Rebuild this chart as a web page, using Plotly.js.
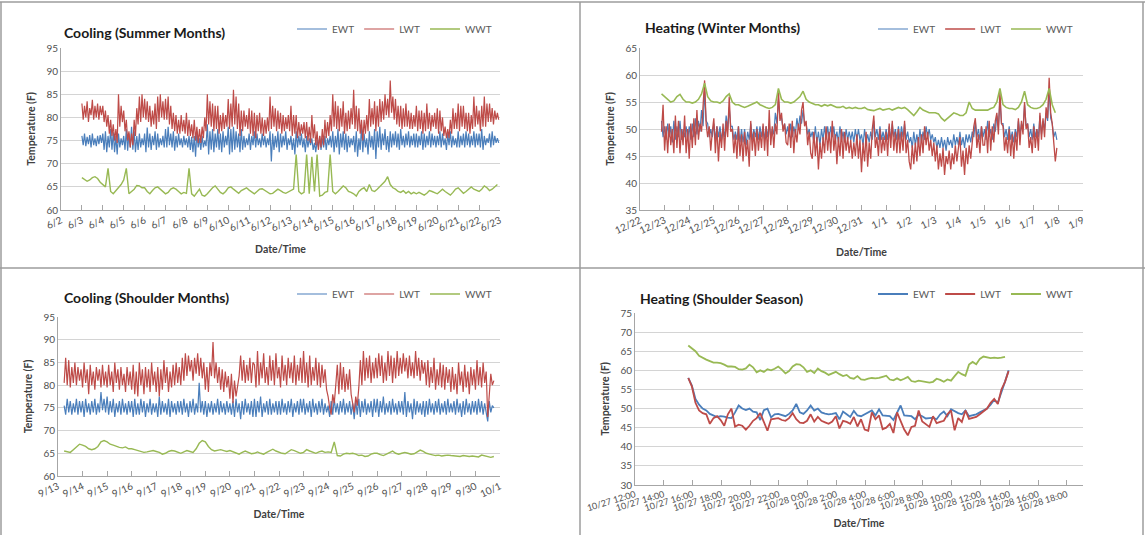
<!DOCTYPE html>
<html>
<head>
<meta charset="utf-8">
<script src="https://cdn.plot.ly/plotly-3.0.1.min.js"></script>
<style>html,body{margin:0;padding:0;background:#fff;}#chart{width:1145px;height:535px;}</style>
</head>
<body>
<div id="chart"></div>
<script>
// ---------------- DATA ----------------
// Cooling (Summer Months): EWT/LWT every 90 min from 6/3 00:00, WWT every 3 h
const summerStart = [2012, 6, 3, 0, 0];
const summerSteps = [90, 90, 180];
const summerEWT = [
  76.0,74.0,76.5,73.8,75.8,74.2,76.2,73.5,76.5,74.0,75.5,73.8,76.0,74.2,76.2,74.5,
  76.5,73.0,77.0,72.5,76.0,73.5,77.5,73.0,76.8,72.5,76.0,72.0,76.5,73.5,75.5,74.0,
  76.0,73.0,77.5,72.8,76.5,73.5,78.0,73.0,77.0,72.5,76.0,73.0,76.5,73.5,75.5,74.0,
  76.5,72.5,77.8,73.5,76.5,73.0,76.0,74.0,77.0,73.0,76.5,73.5,75.5,74.0,76.0,73.5,
  77.5,73.5,78.0,74.0,76.5,73.5,77.0,72.8,76.0,73.5,76.5,74.0,75.5,73.5,76.0,74.0,
  75.5,73.5,76.0,73.0,75.8,72.5,76.0,71.5,77.0,73.5,75.5,73.0,76.0,73.5,75.0,73.8,
  78.5,72.0,77.0,73.0,77.5,72.5,76.5,73.5,77.5,73.0,76.5,72.5,77.0,73.5,76.0,74.0,
  78.0,72.0,77.5,72.5,78.0,73.0,77.0,73.5,76.5,72.5,77.5,73.0,76.0,73.5,75.5,74.0,
  76.5,73.0,76.0,74.0,77.0,73.5,76.5,74.0,75.5,73.5,76.5,74.0,76.0,73.5,75.5,74.0,
  77.0,70.5,76.5,73.0,76.0,73.5,77.0,72.5,76.5,73.5,76.0,74.0,77.0,73.0,75.5,74.0,
  76.0,73.0,75.5,72.0,77.0,73.5,76.0,74.0,76.5,73.5,75.5,72.5,76.0,73.5,75.5,74.0,
  75.5,73.0,74.5,72.5,75.0,73.5,76.0,73.0,75.5,73.5,76.0,73.0,75.5,74.0,76.0,73.5,
  77.0,72.5,76.0,73.5,77.5,72.0,76.5,73.5,77.0,73.0,76.5,72.5,76.0,73.5,75.5,74.0,
  76.0,72.5,77.0,71.5,75.5,73.0,78.0,72.5,76.5,73.5,75.5,72.0,77.0,73.5,76.0,73.0,
  77.5,71.0,77.0,73.5,78.0,73.0,76.5,74.0,77.5,73.0,76.0,72.5,77.0,73.5,76.5,74.0,
  77.0,73.5,76.5,73.0,77.5,74.0,76.0,73.5,76.5,74.0,77.0,73.5,76.0,74.0,76.5,73.5,
  76.5,73.5,76.0,74.0,77.0,73.0,76.5,73.5,76.0,74.0,77.0,73.5,76.5,74.0,76.0,73.5,
  76.0,74.0,77.0,73.5,76.5,74.0,75.5,73.0,76.5,74.0,77.0,73.5,76.0,74.0,75.5,73.5,
  77.0,73.5,76.0,74.0,76.5,73.5,77.0,74.0,76.5,73.5,76.0,74.0,77.0,73.5,76.5,74.0,
  76.5,73.5,77.5,73.0,76.0,74.0,75.5,74.5,76.5,73.5,77.0,74.0,76.0,74.5,75.5,74.5
];
const summerLWT = [
  83.0,79.5,82.5,80.0,83.5,79.0,82.0,80.5,83.8,79.5,82.5,80.0,83.0,79.5,82.5,80.5,
  82.5,79.0,81.5,78.0,80.5,76.5,79.5,76.0,78.5,75.0,77.5,74.5,85.0,78.0,82.5,79.0,
  81.5,77.0,79.5,75.0,77.0,73.5,76.5,74.0,79.5,76.0,82.0,78.5,84.5,79.0,85.0,80.0,
  84.0,79.5,83.5,79.0,82.5,78.0,81.5,78.5,83.0,77.5,84.5,79.0,85.0,80.0,83.5,79.5,
  84.0,79.5,84.5,78.5,82.5,77.5,81.0,77.0,80.5,76.5,79.5,76.5,80.5,77.0,79.5,76.5,
  81.0,76.0,79.5,76.0,78.5,75.5,79.5,75.0,78.0,74.5,77.5,74.5,78.0,75.5,80.0,77.0,
  85.0,78.5,83.5,78.0,83.0,77.0,82.5,77.5,82.5,76.5,80.5,77.0,81.0,77.5,80.5,78.0,
  84.0,77.5,83.0,78.0,86.0,78.5,84.5,77.5,83.0,76.0,81.5,77.0,81.5,78.0,80.5,77.5,
  82.0,76.5,81.5,76.0,81.0,75.5,80.5,77.0,81.0,76.5,80.0,76.0,79.5,76.5,80.0,77.0,
  84.5,77.5,82.5,78.0,82.0,77.0,81.5,77.5,81.0,76.5,80.5,77.0,80.0,77.5,80.5,77.0,
  82.5,76.0,80.5,76.5,80.5,75.5,79.0,76.0,78.5,76.5,79.0,75.5,79.0,75.0,78.0,74.5,
  80.5,75.5,78.5,74.0,77.0,73.0,76.0,73.5,77.5,74.0,79.5,75.5,79.0,76.0,80.5,77.0,
  85.0,78.0,83.5,77.5,82.5,77.0,82.0,78.0,83.5,76.5,81.0,77.0,81.5,77.5,82.0,78.5,
  86.0,77.5,82.5,77.0,82.0,76.5,79.5,75.0,79.5,76.5,80.5,77.0,84.0,78.0,82.0,78.5,
  83.5,77.0,82.5,78.0,84.0,79.0,83.5,79.5,85.0,80.5,84.0,80.0,88.0,81.0,84.5,79.5,
  84.0,78.5,82.5,78.0,82.5,77.5,82.0,78.0,83.0,78.0,81.5,77.5,81.0,77.5,80.5,78.0,
  82.5,77.0,81.5,77.5,81.5,76.5,81.0,77.0,83.0,77.5,81.0,77.0,80.5,78.0,81.0,77.5,
  82.0,76.5,81.5,77.0,80.0,76.0,78.0,75.5,77.5,75.5,79.5,76.5,82.0,77.5,81.0,77.5,
  83.0,77.0,82.5,78.0,82.5,77.5,81.0,77.0,81.0,76.5,80.5,77.5,84.5,78.0,82.5,78.5,
  81.5,77.0,82.5,78.0,84.5,78.0,83.0,79.0,83.0,79.0,82.0,78.5,81.5,79.5,81.0,79.5
];
const summerWWT = [
  67.0, 66.5, 66.2, 66.5, 67.0, 67.2, 66.8, 66.0,
  65.5, 65.0, 69.0, 64.0, 63.5, 64.2, 64.8, 65.5,
  66.5, 69.0, 63.5, 64.0, 64.5, 65.3, 65.2, 64.8,
  64.8, 64.0, 63.5, 64.2, 64.8, 65.0, 64.5, 64.0,
  63.5, 63.8, 64.5, 64.8, 64.5, 64.0, 63.5, 63.8,
  63.6, 69.0, 63.5, 63.0, 63.8, 64.5, 63.2, 63.0,
  63.5, 64.2, 64.8, 65.2, 64.5, 63.8, 63.5, 64.0,
  64.8, 65.0, 64.5, 64.0, 63.6, 64.2, 64.6, 64.8,
  64.3, 63.8, 63.5, 64.0, 64.5, 64.6, 64.2, 63.8,
  63.5, 63.6, 64.0, 64.5, 64.2, 63.8, 63.6, 63.9,
  64.2, 64.5, 72.0, 64.0, 63.5, 63.8, 72.0, 63.5,
  71.5, 64.0, 72.0, 63.0, 63.2, 63.8, 64.0, 72.0,
  64.0, 63.5, 64.0, 64.5, 65.2, 64.8, 64.0, 63.8,
  63.5, 63.0, 64.0, 64.5, 64.8, 64.0, 65.5, 64.2,
  64.0, 64.5, 65.0, 65.5, 66.2, 67.2, 65.5, 64.8,
  64.5, 64.0, 63.8, 64.2, 63.6, 64.0, 63.5, 63.8,
  63.5, 63.8, 63.5, 63.2, 63.6, 64.2, 64.0, 63.8,
  63.5, 64.0, 64.5, 64.0, 63.5, 63.2, 63.8, 64.5,
  64.8, 64.2, 63.6, 64.0, 64.5, 65.0, 64.5, 64.2,
  64.0, 64.5, 65.2, 64.8, 64.2, 64.5, 65.0, 65.5
];

// Heating (Winter Months): EWT/LWT every 90 min from 12/22 21:00, WWT every 3 h
const winterStart = [2012, 12, 22, 21, 0];
const winterSteps = [90, 90, 180];
const winterEWT = [
  51.5,48.5,
  50.5,48.0,51.0,48.5,50.5,47.5,51.5,48.0,50.5,48.5,51.5,48.0,50.0,48.5,50.5,48.0,
  50.5,48.0,51.0,48.5,52.0,49.0,51.5,49.5,53.5,50.5,57.0,51.5,51.0,48.5,50.0,48.5,
  51.0,48.0,50.5,48.5,50.5,48.0,50.0,48.5,52.5,50.0,54.0,50.5,50.5,48.0,49.5,48.0,
  50.5,47.5,50.0,47.5,50.0,47.0,49.5,48.0,51.0,48.0,50.0,48.5,50.5,48.0,50.5,48.5,
  50.5,48.0,50.5,48.5,51.0,48.5,50.0,49.0,53.0,51.0,55.5,52.0,52.0,50.0,51.0,49.0,
  50.5,48.5,51.0,48.5,50.5,49.0,52.0,50.0,52.5,51.0,53.5,51.0,51.0,49.0,50.0,48.5,
  49.5,47.5,50.5,47.5,49.5,47.0,50.0,48.0,50.5,48.0,50.5,48.0,50.5,48.5,50.5,48.0,
  49.5,47.5,50.5,48.0,49.5,47.5,50.0,48.0,49.5,48.0,49.5,47.5,50.0,48.0,50.0,48.0,
  49.0,47.0,50.0,47.5,49.0,47.5,49.5,48.0,51.5,48.5,50.0,48.0,50.5,48.0,49.5,48.0,
  50.0,48.0,50.5,48.0,51.0,48.5,50.0,48.0,50.5,48.0,50.5,48.5,51.0,48.0,49.5,47.5,
  48.5,46.5,49.5,47.0,49.0,47.0,50.0,47.5,49.5,48.0,50.5,48.5,50.0,48.0,49.0,47.5,
  48.5,46.5,48.0,46.5,48.5,46.5,48.0,46.0,48.5,47.0,48.0,46.5,49.0,47.0,48.5,47.0,
  49.5,47.0,48.5,46.5,49.0,47.5,49.0,47.5,49.5,48.5,51.5,48.5,50.0,48.0,50.5,48.5,
  50.0,48.0,51.5,48.5,50.0,48.0,51.0,49.5,52.5,50.5,55.5,51.0,51.0,48.5,50.0,48.0,
  50.5,48.0,49.5,47.5,50.0,48.5,51.5,49.0,51.0,50.0,54.5,50.5,51.0,48.5,50.0,48.0,
  51.0,48.5,50.0,48.5,52.5,49.0,51.5,50.0,53.0,51.5,57.5,52.0,51.0,48.5,49.5,48.0
];
const winterLWT = [
  49.5,54.5,
  46.0,50.5,45.5,51.0,47.0,50.0,45.5,52.5,46.5,51.5,45.5,50.0,47.0,52.5,45.5,50.0,
  44.5,51.0,46.5,52.0,47.0,53.5,48.0,51.0,49.5,54.0,59.0,51.0,48.5,50.5,46.0,49.5,
  52.0,45.5,50.5,44.0,49.5,46.5,51.0,46.0,51.5,48.5,56.0,49.5,50.0,45.5,49.0,44.5,
  50.5,45.0,49.0,44.0,49.5,45.0,48.0,43.0,51.5,46.0,49.5,45.0,50.0,46.0,49.5,46.5,
  51.0,46.0,50.5,45.0,53.5,47.0,50.5,46.5,51.0,49.0,57.0,51.5,53.0,49.5,51.0,47.5,
  47.0,51.0,46.5,51.5,45.5,50.0,47.5,51.0,49.0,53.5,55.0,50.5,51.5,47.0,49.5,45.5,
  44.5,49.5,45.0,48.5,42.5,47.5,44.5,48.5,45.5,50.5,46.0,49.5,45.5,51.5,46.0,49.0,
  43.5,48.5,45.0,50.0,44.5,49.5,46.0,48.5,45.5,48.0,44.5,47.5,45.0,49.0,44.5,48.0,
  42.0,47.5,44.0,49.5,43.0,47.5,44.5,50.0,52.5,46.5,48.5,45.0,50.0,45.5,48.5,46.0,
  49.5,45.0,51.0,46.5,51.5,46.0,49.5,45.5,50.0,45.5,49.5,46.0,51.5,45.5,48.0,44.0,
  42.5,47.0,43.5,47.5,44.0,48.5,45.0,49.0,45.5,50.5,47.0,49.5,46.0,48.0,45.0,47.5,
  44.0,47.0,42.5,45.5,43.0,46.5,41.5,45.0,43.5,46.0,42.5,45.5,43.5,47.0,44.0,46.5,
  48.5,43.0,46.0,41.5,46.5,43.5,47.0,44.5,48.0,50.5,52.0,46.5,49.0,45.5,50.5,47.0,
  47.0,50.5,45.5,51.5,46.0,50.5,47.5,51.5,53.0,49.0,57.0,51.0,50.5,46.0,48.5,45.5,
  50.0,45.0,49.0,44.5,49.5,46.0,52.0,47.0,51.5,49.0,55.0,50.0,51.0,46.5,48.5,45.5,
  50.5,46.5,50.0,46.0,53.0,48.0,52.0,48.5,54.0,52.0,59.5,53.0,51.0,46.5,44.0,46.5
];
const winterWWT = [
  56.5,
  56.0, 55.5, 55.0, 55.2, 56.0, 56.4, 55.5, 55.0,
  55.0, 54.8, 55.0, 55.5, 56.5, 58.5, 56.0, 55.2,
  55.0, 55.0, 54.8, 55.2, 56.0, 56.5, 55.0, 54.5,
  54.5, 54.2, 54.0, 54.2, 54.5, 54.8, 55.0, 54.5,
  54.2, 54.0, 53.8, 54.0, 54.5, 57.5, 55.5, 55.0,
  55.0, 54.8, 55.0, 55.5, 56.0, 57.0, 55.5, 55.0,
  54.8, 54.5, 54.5, 54.2, 54.5, 54.3, 54.5, 54.2,
  54.0, 54.0, 54.2, 53.8, 54.0, 53.8, 54.0, 53.8,
  53.8, 54.0, 53.6, 53.5, 53.4, 53.6, 53.8, 53.5,
  53.6, 53.8, 53.5, 53.8, 54.0, 53.8, 54.0, 53.6,
  53.0, 52.5, 53.2, 54.0, 53.5, 53.2, 53.0, 53.0,
  53.0, 52.8, 52.0, 51.5, 52.0, 52.6, 53.0, 52.8,
  52.5, 52.5, 53.0, 55.0, 53.8, 53.5, 53.5, 53.5,
  53.5, 53.5, 53.8, 54.0, 55.0, 57.5, 54.5, 54.0,
  53.8, 53.8, 53.6, 54.0, 55.0, 57.0, 54.5, 54.0,
  53.8, 53.8, 54.0, 54.5, 55.5, 57.5, 54.5, 53.0
];

// Cooling (Shoulder Months): EWT/LWT every 90 min from 9/13 06:00, WWT every 3 h
const shoulderCoolStart = [2012, 9, 13, 6, 0];
const shoulderCoolSteps = [90, 90, 180];
const shoulderCoolEWT = [
  75.5,73.5,77.0,74.0,76.5,73.5,76.0,74.0,77.0,73.5,76.5,74.0,
  76.5,73.0,77.0,74.0,76.0,73.5,76.5,74.0,77.0,73.5,76.0,74.0,78.5,74.5,77.0,74.0,
  77.5,73.5,76.5,74.0,77.0,73.0,76.0,74.0,76.5,73.5,77.0,74.0,76.0,73.5,76.5,74.0,
  76.5,73.0,77.0,73.5,76.0,73.5,77.0,74.0,76.5,73.0,76.0,74.0,77.0,73.5,76.0,74.0,
  76.0,73.0,77.5,73.5,76.5,74.0,76.0,73.5,77.0,73.0,76.5,74.0,76.0,73.5,76.5,74.0,
  76.5,73.5,77.0,74.0,76.0,73.0,76.5,74.0,77.0,73.5,76.0,74.0,80.5,74.0,76.5,73.5,
  76.5,73.0,76.0,74.0,76.5,73.5,76.0,74.0,77.0,73.5,76.5,74.0,76.0,73.5,76.5,74.0,
  76.0,73.5,76.5,73.0,77.0,74.0,76.0,72.5,76.5,73.5,77.0,74.0,76.0,73.5,76.5,73.0,
  77.0,73.0,76.5,74.0,77.5,73.0,76.0,74.0,76.5,73.5,77.0,73.5,76.0,74.0,76.5,73.5,
  76.5,73.5,77.0,74.0,76.0,73.5,76.5,74.0,77.0,73.0,76.0,74.0,76.5,73.5,77.0,74.0,
  77.0,73.5,76.0,74.0,76.5,73.0,77.0,74.0,76.0,73.5,76.5,74.0,77.0,73.5,76.0,74.0,
  75.5,73.0,76.5,73.5,77.0,74.0,76.0,73.5,76.5,74.0,77.0,73.5,76.0,74.0,76.5,73.5,
  76.0,72.5,76.5,73.5,77.0,73.0,76.5,74.0,77.0,73.5,76.0,74.0,76.5,73.0,77.0,74.0,
  77.0,73.0,76.5,74.0,77.5,73.5,76.0,74.0,76.5,73.5,77.0,74.0,76.0,73.5,76.5,74.0,
  76.5,73.5,78.5,73.0,76.5,74.0,76.0,72.5,77.0,73.5,76.5,74.0,76.0,73.5,76.5,73.0,
  76.5,73.5,77.0,74.0,76.0,73.5,76.5,74.0,77.0,73.5,76.0,74.0,76.5,73.5,77.0,74.0,
  76.0,74.0,76.5,73.5,77.0,74.0,76.0,73.0,76.5,73.5,77.0,74.0,76.0,73.5,76.5,74.0,
  76.5,73.5,77.0,74.0,76.5,73.5,76.0,74.0,72.0,76.5,74.0,75.5,75.0
];
const shoulderCoolLWT = [
  80.5,86.0,80.0,85.5,79.5,84.0,80.5,85.0,80.0,84.0,81.0,83.5,
  79.5,85.0,80.5,83.5,78.0,84.5,80.0,83.0,79.0,84.0,81.0,83.5,79.5,84.5,80.0,83.0,
  79.5,84.5,80.0,83.0,78.5,85.0,80.5,83.5,79.0,84.0,80.0,82.5,78.5,84.0,80.0,83.0,
  79.0,84.5,78.0,83.0,77.5,85.0,80.0,83.5,78.0,84.0,79.5,83.5,78.5,85.0,80.0,83.0,
  78.5,84.0,77.5,83.5,79.0,85.5,80.5,84.0,78.5,83.0,79.5,84.5,80.0,85.0,80.5,84.0,
  80.0,86.0,81.0,87.0,82.0,86.5,83.0,85.5,81.0,86.0,82.5,87.0,82.0,86.0,81.5,85.0,
  79.0,84.0,78.5,85.0,82.0,89.5,81.5,85.0,80.5,84.0,79.0,83.5,78.5,83.0,79.5,82.0,
  77.0,82.5,76.0,81.0,77.5,80.0,82.0,86.5,81.0,85.5,80.5,84.5,81.0,86.0,80.5,85.0,
  84.5,79.5,87.5,80.0,85.0,81.5,87.0,80.5,84.0,80.0,86.5,81.0,85.5,80.0,87.0,81.5,
  84.0,79.5,86.5,81.0,84.5,80.0,86.0,81.5,85.0,80.5,86.5,80.0,84.5,81.0,86.0,80.5,
  87.5,80.5,85.0,79.5,86.5,80.0,84.0,81.0,86.0,80.0,85.0,79.5,84.5,80.5,83.5,79.0,
  77.5,75.0,73.5,78.0,76.0,80.0,84.5,78.0,85.0,79.0,84.0,78.5,82.5,79.0,83.5,78.0,
  76.0,74.0,77.5,75.5,79.5,85.5,80.0,87.5,81.0,86.0,81.5,86.5,80.5,85.0,81.5,86.0,
  81.5,87.0,82.0,86.5,80.5,85.0,81.0,87.5,82.0,86.5,80.5,86.0,81.5,87.5,82.0,86.0,
  82.5,87.0,83.0,86.0,81.5,86.5,82.0,85.0,81.5,87.5,82.0,86.0,81.0,85.5,82.5,85.0,
  80.0,85.5,79.5,84.0,80.5,86.0,79.0,83.5,80.0,85.0,79.5,84.5,79.0,84.0,80.5,83.5,
  78.5,84.0,79.0,82.5,78.0,85.0,80.0,83.0,78.5,84.5,79.5,83.0,78.0,84.0,80.0,83.5,
  79.0,85.5,80.0,84.0,79.5,85.0,80.5,83.0,73.0,79.0,82.5,80.0,81.0
];
const shoulderCoolWWT = [
  65.5, 65.3, 65.2, 65.8, 66.5, 67.0,
  66.8, 66.5, 66.0, 65.8, 66.0, 66.5, 67.5, 67.8,
  67.5, 67.0, 66.8, 66.5, 66.3, 66.2, 66.4, 66.0,
  66.0, 65.8, 65.6, 65.5, 65.2, 65.3, 65.5, 65.6,
  65.4, 65.2, 64.8, 65.0, 65.4, 65.6, 65.5, 65.2,
  65.0, 65.3, 65.6, 65.4, 65.2, 66.0, 67.2, 67.8,
  67.5, 66.5, 65.8, 65.5, 65.6, 65.8, 65.6, 65.4,
  65.6, 65.3, 65.0, 64.8, 65.2, 65.5, 65.2, 64.9,
  65.0, 65.3, 65.0, 64.8, 65.2, 65.6, 65.9, 65.5,
  65.2, 65.0, 64.9, 65.3, 65.8, 65.6, 65.3, 65.0,
  65.2, 65.8, 65.5, 65.2, 65.0, 65.3, 65.5, 65.2,
  65.3, 65.2, 67.5, 64.5, 64.4, 64.8, 65.0, 64.9,
  65.0, 64.8, 64.5, 64.6, 64.3, 64.4, 64.8, 65.0,
  65.0, 64.7, 64.5, 64.8, 65.2, 65.5, 65.0, 64.8,
  65.0, 65.2, 65.0, 64.8, 64.9, 65.4, 65.7, 65.4,
  65.0, 64.8, 64.6, 64.5, 64.6, 64.4, 64.5, 64.6,
  64.5, 64.4, 64.4, 64.3, 64.5, 64.4, 64.3, 64.4,
  64.3, 64.2, 64.6, 64.4, 64.3, 64.1, 64.3
];

// Heating (Shoulder Season): all series every 15 min from 10/27 15:42
const shoulderHeatStart = [2012, 10, 27, 15, 42];
const shoulderHeatSteps = [15, 15, 15];
const shoulderHeatEWT = [
  58.0, 56.0, 52.5, 51.0, 50.0, 49.5, 48.6, 48.2, 47.8, 48.0,
  47.9, 47.6, 47.5, 49.0, 50.8, 50.0, 49.6, 50.0, 49.2, 49.0,
  47.0, 49.6, 50.0, 47.7, 48.5, 48.6, 48.3, 48.0, 48.6, 49.5,
  51.2, 49.0, 48.6, 49.5, 50.8, 49.5, 50.0, 49.0, 48.7, 48.5,
  48.6, 48.8, 47.2, 49.2, 48.5, 47.8, 49.4, 48.2, 48.0, 48.5,
  49.0, 49.5, 48.2, 49.8, 48.2, 48.0, 48.0, 47.0, 49.0, 50.8,
  48.2, 48.0, 48.0, 47.2, 48.4, 48.0, 47.4, 47.5, 47.6, 47.2,
  48.5, 49.2, 48.0, 49.8, 49.2, 48.8, 48.5, 49.5, 48.0, 48.2,
  48.5, 49.0, 49.5, 50.0, 51.0, 52.3, 51.5, 54.0, 57.0, 60.0
];
const shoulderHeatLWT = [
  58.0, 55.8, 51.5, 49.5, 48.8, 48.5, 46.0, 47.5, 48.0, 47.0,
  45.5, 48.5, 50.0, 45.3, 45.8, 45.5, 44.5, 45.5, 46.8, 47.5,
  48.8, 46.5, 44.2, 47.2, 47.4, 47.5, 47.0, 46.8, 47.5, 48.8,
  47.2, 46.3, 46.2, 46.8, 48.5, 46.6, 47.8, 46.8, 46.4, 46.0,
  46.6, 48.0, 44.8, 46.8, 46.5, 46.0, 47.8, 45.3, 47.2, 44.5,
  44.2, 49.0, 47.2, 48.2, 44.6, 45.0, 46.0, 43.6, 49.0, 46.8,
  44.5, 43.0, 45.2, 45.5, 49.5, 46.6, 46.0, 45.2, 48.0, 46.2,
  46.5, 46.8, 48.5, 49.5, 44.3, 47.5, 46.5, 49.5, 47.3, 47.6,
  47.8, 48.5, 49.2, 50.0, 51.5, 52.5, 51.2, 55.0, 57.0, 59.8
];
const shoulderHeatWWT = [
  66.5, 65.8, 65.0, 63.8, 63.2, 62.8, 62.4, 62.0, 62.0, 61.9,
  61.5, 61.0, 61.0, 60.9, 60.3, 60.2, 60.5, 61.5, 60.8, 59.5,
  60.0, 59.6, 60.3, 60.0, 60.4, 61.0, 60.2, 59.2, 59.8, 61.0,
  61.6, 61.5, 60.8, 59.6, 60.0, 59.3, 60.5, 59.8, 59.4, 58.8,
  59.2, 59.6, 59.0, 58.5, 58.8, 58.0, 57.8, 58.5, 57.6, 57.5,
  57.8, 58.0, 57.9, 58.0, 58.3, 58.6, 57.6, 57.4, 57.9, 57.4,
  57.8, 58.3, 57.2, 57.0, 57.3, 57.1, 56.9, 56.8, 57.0, 57.8,
  57.5, 57.0, 57.6, 57.3, 58.5, 59.6, 59.0, 58.6, 61.5, 62.2,
  61.6, 63.0, 63.6, 63.5, 63.2, 63.3, 63.2, 63.3, 63.5
];

const seriesNames = ['EWT', 'LWT', 'WWT'];
const panelTitles = ['Cooling (Summer Months)', 'Heating (Winter Months)', 'Cooling (Shoulder Months)', 'Heating (Shoulder Season)'];

// ---------------- BUILD ----------------
function pad(n) { return (n < 10 ? '0' : '') + n; }
function timeAxis(start, stepMin, n) {
  const t0 = Date.UTC(start[0], start[1] - 1, start[2], start[3], start[4]);
  const out = [];
  for (let i = 0; i < n; i++) {
    const d = new Date(t0 + i * stepMin * 60000);
    out.push(d.getUTCFullYear() + '-' + pad(d.getUTCMonth() + 1) + '-' + pad(d.getUTCDate()) + ' ' + pad(d.getUTCHours()) + ':' + pad(d.getUTCMinutes()));
  }
  return out;
}

const colors = ['#4a7ebb', '#be4b48', '#98b954'];
const panels = [
  { start: summerStart, steps: summerSteps, data: [summerEWT, summerLWT, summerWWT], w: [1.2, 1.2, 1.4] },
  { start: winterStart, steps: winterSteps, data: [winterEWT, winterLWT, winterWWT], w: [1.2, 1.3, 1.6] },
  { start: shoulderCoolStart, steps: shoulderCoolSteps, data: [shoulderCoolEWT, shoulderCoolLWT, shoulderCoolWWT], w: [1.2, 1.2, 1.4] },
  { start: shoulderHeatStart, steps: shoulderHeatSteps, data: [shoulderHeatEWT, shoulderHeatLWT, shoulderHeatWWT], w: [1.8, 1.8, 1.8] }
];

const traces = [];
panels.forEach((p, k) => {
  const ax = k === 0 ? '' : String(k + 1);
  p.data.forEach((vals, s) => {
    traces.push({
      type: 'scatter', mode: 'lines',
      name: seriesNames[s],
      x: timeAxis(p.start, p.steps[s], vals.length),
      y: vals,
      xaxis: 'x' + ax, yaxis: 'y' + ax,
      legend: 'legend' + ax,
      line: { color: colors[s], width: p.w[s] },
      hoverinfo: 'skip'
    });
  });
});

const W = 1145, H = 535;
const fx = px => px / W;
const fy = py => 1 - py / H;
const FONT = 'Lato, "Open Sans", sans-serif';

function xAxis(dom, range, fmt, dtick, angle, anchor, tsize, standoff) {
  return {
    domain: [fx(dom[0]), fx(dom[1])], anchor: anchor, type: 'date',
    range: range, tickformat: fmt, dtick: dtick, tick0: range[0],
    tickangle: angle, tickfont: { family: FONT, size: tsize, color: '#505050' },
    showgrid: false, showline: true, linecolor: '#a6a6a6', linewidth: 1,
    ticks: 'inside', ticklen: 5, tickcolor: '#a6a6a6',
    zeroline: false, automargin: false,
    title: { text: '<b>Date/Time</b>', font: { family: FONT, size: 10.5, color: '#404040' }, standoff: standoff }
  };
}
function yAxis(dom, range, anchor) {
  return {
    domain: [fy(dom[1]), fy(dom[0])], anchor: anchor,
    range: range, dtick: 5, tickfont: { family: FONT, size: 10, color: '#505050' },
    showgrid: true, gridcolor: '#d4d4d4', gridwidth: 1,
    showline: true, linecolor: '#a6a6a6', linewidth: 1,
    ticks: '', zeroline: false, automargin: false,
    title: { text: '<b>Temperature (F)</b>', font: { family: FONT, size: 10.5, color: '#404040' }, standoff: 8 }
  };
}
function legendAt(xr, yc) {
  return {
    x: fx(xr), xanchor: 'right', y: fy(yc), yanchor: 'middle',
    orientation: 'h', bgcolor: 'rgba(0,0,0,0)', borderwidth: 0,
    font: { family: FONT, size: 10, color: '#595959' },
    itemwidth: 30, tracegroupgap: 0, itemclick: false, itemdoubleclick: false
  };
}

const DAY = 86400000;
const layout = {
  width: W, height: H,
  margin: { l: 0, r: 0, t: 0, b: 0 },
  paper_bgcolor: '#ffffff', plot_bgcolor: '#ffffff',
  font: { family: FONT, color: '#404040' },
  showlegend: true,
  xaxis: xAxis([61, 500], ['2012-06-02', '2012-06-23'], '%-m/%-d', DAY, -25, 'y', 10, 13),
  yaxis: yAxis([48, 210], [60, 95], 'x'),
  xaxis2: xAxis([640, 1083], ['2012-12-22', '2013-01-09'], '%-m/%-d', DAY, -25, 'y2', 10, 13),
  yaxis2: yAxis([48, 210], [35, 65], 'x2'),
  xaxis3: xAxis([58, 500], ['2012-09-13', '2012-10-01'], '%-m/%-d', DAY, -25, 'y3', 10, 12),
  yaxis3: yAxis([317, 476], [60, 95], 'x3'),
  xaxis4: xAxis([635, 1083], ['2012-10-27 12:00', '2012-10-28 19:07'], '%-m/%d %-H:%M', 7200000, -17, 'y4', 9, 7),
  yaxis4: yAxis([313, 485], [30, 75], 'x4'),
  legend: legendAt(497, 29),
  legend2: legendAt(1078, 29),
  legend3: legendAt(497, 294),
  legend4: legendAt(1078, 294),
  annotations: [
    [62, 33], [643, 28], [62, 297], [638, 298]
  ].map((p, i) => ({
    xref: 'paper', yref: 'paper', x: fx(p[0]), y: fy(p[1]),
    xanchor: 'left', yanchor: 'middle', showarrow: false,
    text: '<b>' + panelTitles[i] + '</b>',
    font: { family: FONT, size: 14, color: '#1a1a1a' }
  })),
  shapes: [
    { x0: 0, x1: 1, y0: fy(2), y1: fy(2) },
    { x0: fx(1), x1: fx(1), y0: 0, y1: fy(2) },
    { x0: fx(1143), x1: fx(1143), y0: 0, y1: fy(2) },
    { x0: fx(580), x1: fx(580), y0: 0, y1: fy(2) },
    { x0: 0, x1: 1, y0: fy(268), y1: fy(268) }
  ].map(s => Object.assign({ type: 'line', xref: 'paper', yref: 'paper', line: { color: '#9d9d9d', width: 1.5 } }, s))
};

Plotly.newPlot('chart', traces, layout, { staticPlot: true, displayModeBar: false });
</script>
</body>
</html>
